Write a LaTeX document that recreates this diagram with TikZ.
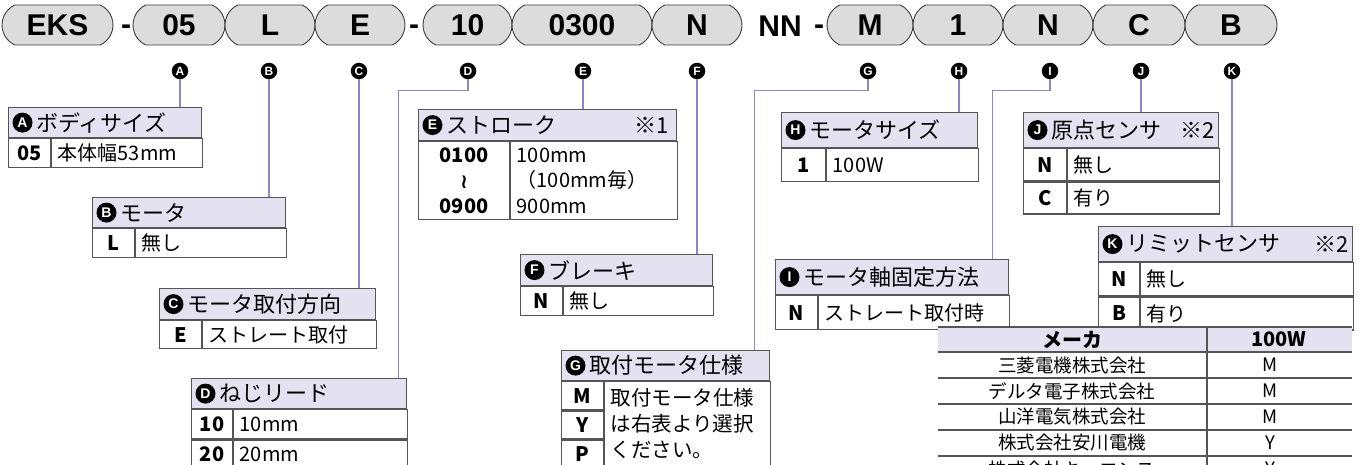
\documentclass[tikz,border=0pt]{standalone}
\usepackage{fontspec}
\setmainfont{Noto Sans CJK JP}
\newfontfamily\pillfont{Liberation Sans}
\newfontfamily\djvfont{DejaVu Sans}
\usetikzlibrary{shapes.misc,positioning}
\definecolor{pillgray}{HTML}{DCDCDC}
\definecolor{pilledge}{HTML}{3C3C3C}
\definecolor{headfill}{HTML}{E4E2F1}
\definecolor{tabline}{HTML}{555555}
\definecolor{linkline}{HTML}{8C85C6}

\begin{document}
\begin{tikzpicture}[x=1pt, y=-1pt,
  pill/.style={rounded rectangle, rounded rectangle arc length=130, draw=pilledge, line width=0.9pt,
    fill=pillgray, minimum height=40pt, minimum width=#1, inner sep=0pt,
    font=\pillfont\bfseries\fontsize{30}{30}\selectfont},
  pill/.default=90pt,
  hyph/.style={anchor=base, inner sep=0pt, font=\pillfont\bfseries\fontsize{30}{30}\selectfont},
  badge/.style={circle, fill=black, text=white, inner sep=0pt, minimum size=16.5pt,
    font=\pillfont\bfseries\fontsize{12}{12}\selectfont},
  hbadge/.style={circle, fill=black, text=white, inner sep=0pt, minimum size=20pt,
    font=\pillfont\bfseries\fontsize{14}{14}\selectfont},
  link/.style={draw=linkline, line width=1.1pt},
  headbox/.style={draw=tabline, fill=headfill, line width=1.2pt, anchor=north west, inner sep=0pt},
  headtxt/.style={anchor=west, inner sep=0pt, font=\fontsize{22}{22}\selectfont},
  cell/.style={draw=tabline, line width=1.2pt, anchor=north west, inner sep=0pt},
  keycell/.style={cell, align=center, font=\bfseries\fontsize{20}{25.5}\selectfont},
  desccell/.style={cell, text width=#1, inner xsep=6pt, align=left, font=\fontsize{20}{25.5}\selectfont},
  mtxt/.style={inner sep=0pt, font=\fontsize{18.5}{18.5}\selectfont},
]
\useasboundingbox (0,0) rectangle (1359,465);
\clip (0,0) rectangle (1359,465);

% 型式
\node[pill=111pt] (pEKS) at (57.5,25) {EKS};
\node[hyph] (h1) at (126,35) {-};
\node[pill=92pt] (p05) at (179,25) {05};
\node[pill] (pL) at (270,25) {L};
\node[pill] (pE) at (360,25) {E};
\node[hyph] (h2) at (414,35) {-};
\node[pill=89pt] (p10) at (467.5,25) {10};
\node[pill=140pt] (p0300) at (582,25) {0300};
\node[pill] (pN) at (697,25) {N};
\node[hyph] (nn) at (780,37) {NN};
\node[hyph] (h3) at (819,35) {-};
\node[pill=86pt] (pM) at (870,25) {M};
\node[pill] (p1) at (958,25) {1};
\node[pill] (pN2) at (1048,25) {N};
\node[pill=92pt] (pC) at (1139,25) {C};
\node[pill=92pt] (pB) at (1231,25) {B};

% 記号
\node[badge] (bA) at (180,71) {A};
\node[badge] (bB) at (269,71) {B};
\node[badge] (bC) at (359,71) {C};
\node[badge] (bD) at (468,71) {D};
\node[badge] (bE) at (583,71) {E};
\node[badge] (bF) at (697,71) {F};
\node[badge] (bG) at (868,71) {G};
\node[badge] (bH) at (959,71) {H};
\node[badge] (bI) at (1050,71) {I};
\node[badge] (bJ) at (1141,71) {J};
\node[badge] (bK) at (1232,71) {K};

% A ボディサイズ
\node[headbox, minimum width=193pt, minimum height=30pt] (Ahead) at (8,107) {};
\node[hbadge] (Ahb) at ([xshift=14.5pt]Ahead.west) {A};
\node[headtxt] (Atitle) at ([xshift=28pt]Ahead.west) {ボディサイズ};
\node[keycell, minimum width=42pt, minimum height=29pt] (Akey) at (Ahead.south west) {05};
\node[desccell=139pt, minimum height=29pt] (Adesc) at (Akey.north east) {本体幅53mm};

% B モータ
\node[headbox, minimum width=193pt, minimum height=30pt] (Bhead) at (92,197) {};
\node[hbadge] (Bhb) at ([xshift=14.5pt]Bhead.west) {B};
\node[headtxt] (Btitle) at ([xshift=28pt]Bhead.west) {モータ};
\node[keycell, minimum width=42pt, minimum height=29pt] (Bkey) at (Bhead.south west) {L};
\node[desccell=139pt, minimum height=29pt] (Bdesc) at (Bkey.north east) {無し};

% C モータ取付方向
\node[headbox, minimum width=216pt, minimum height=31pt] (Chead) at (159,288) {};
\node[hbadge] (Chb) at ([xshift=14.5pt]Chead.west) {C};
\node[headtxt] (Ctitle) at ([xshift=28pt]Chead.west) {モータ取付方向};
\node[keycell, minimum width=42pt, minimum height=28pt] (Ckey) at (Chead.south west) {E};
\node[desccell=162pt, minimum height=28pt] (Cdesc) at (Ckey.north east) {ストレート取付};

% D ねじリード
\node[headbox, minimum width=215pt, minimum height=30pt] (Dhead) at (191,378) {};
\node[hbadge] (Dhb) at ([xshift=14.5pt]Dhead.west) {D};
\node[headtxt] (Dtitle) at ([xshift=28pt]Dhead.west) {ねじリード};
\node[keycell, minimum width=41pt, minimum height=29pt] (Dkey1) at (Dhead.south west) {10};
\node[desccell=162pt, minimum height=29pt] (Ddesc1) at (Dkey1.north east) {10mm};
\node[keycell, minimum width=41pt, minimum height=28pt] (Dkey2) at (Dkey1.south west) {20};
\node[desccell=162pt, minimum height=28pt] (Ddesc2) at (Dkey2.north east) {20mm};

% E ストローク
\node[headbox, minimum width=258pt, minimum height=31pt] (Ehead) at (418,109) {};
\node[hbadge] (Ehb) at ([xshift=14.5pt]Ehead.west) {E};
\node[headtxt] (Etitle) at ([xshift=28pt]Ehead.west) {ストローク};
\node[headtxt, anchor=east] (Enote) at ([xshift=-8pt]Ehead.east) {※1};
\node[keycell, minimum width=91pt, minimum height=78pt] (Ekey) at (Ehead.south west)
  {0100\\{\djvfont ≀}\\0900};
\node[desccell=155pt, minimum height=78pt] (Edesc) at (Ekey.north east)
  {100mm\\（100mm毎）\\900mm};

% F ブレーキ
\node[headbox, minimum width=192pt, minimum height=31pt] (Fhead) at (520,254) {};
\node[hbadge] (Fhb) at ([xshift=14.5pt]Fhead.west) {F};
\node[headtxt] (Ftitle) at ([xshift=28pt]Fhead.west) {ブレーキ};
\node[keycell, minimum width=42pt, minimum height=29pt] (Fkey) at (Fhead.south west) {N};
\node[desccell=138pt, minimum height=29pt] (Fdesc) at (Fkey.north east) {無し};

% G 取付モータ仕様
\node[headbox, minimum width=208pt, minimum height=30pt] (Ghead) at (561,350) {};
\node[hbadge] (Ghb) at ([xshift=14.5pt]Ghead.west) {G};
\node[headtxt] (Gtitle) at ([xshift=28pt]Ghead.west) {取付モータ仕様};
\node[keycell, minimum width=42pt, minimum height=28pt] (Gkey1) at (Ghead.south west) {M};
\node[keycell, minimum width=42pt, minimum height=28pt] (Gkey2) at (Gkey1.south west) {Y};
\node[keycell, minimum width=42pt, minimum height=28pt] (Gkey3) at (Gkey2.south west) {P};
\node[desccell=154pt, minimum height=84pt, font=\fontsize{20.5}{26}\selectfont] (Gdesc) at (Gkey1.north east)
  {取付モータ仕様\\は右表より選択\\ください。};

% H モータサイズ
\node[headbox, minimum width=196pt, minimum height=35pt] (Hhead) at (781,112) {};
\node[hbadge] (Hhb) at ([xshift=14.5pt]Hhead.west) {H};
\node[headtxt] (Htitle) at ([xshift=28pt]Hhead.west) {モータサイズ};
\node[keycell, minimum width=44pt, minimum height=33pt] (Hkey) at (Hhead.south west) {1};
\node[desccell=140pt, minimum height=33pt] (Hdesc) at (Hkey.north east) {100W};

% I モータ軸固定方法
\node[headbox, minimum width=233pt, minimum height=35pt] (Ihead) at (775,259) {};
\node[hbadge] (Ihb) at ([xshift=14.5pt]Ihead.west) {I};
\node[headtxt] (Ititle) at ([xshift=28pt]Ihead.west) {モータ軸固定方法};
\node[keycell, minimum width=42pt, minimum height=34pt] (Ikey) at (Ihead.south west) {N};
\node[desccell=179pt, minimum height=34pt] (Idesc) at (Ikey.north east) {ストレート取付時};

% J 原点センサ
\node[headbox, minimum width=195pt, minimum height=35pt] (Jhead) at (1023,112) {};
\node[hbadge] (Jhb) at ([xshift=14.5pt]Jhead.west) {J};
\node[headtxt] (Jtitle) at ([xshift=28pt]Jhead.west) {原点センサ};
\node[headtxt, anchor=east] (Jnote) at ([xshift=-4pt]Jhead.east) {※2};
\node[keycell, minimum width=43pt, minimum height=32pt] (Jkey1) at (Jhead.south west) {N};
\node[desccell=140pt, minimum height=32pt] (Jdesc1) at (Jkey1.north east) {無し};
\node[keycell, minimum width=43pt, minimum height=32pt] (Jkey2) at (Jkey1.south west) {C};
\node[desccell=140pt, minimum height=32pt] (Jdesc2) at (Jkey2.north east) {有り};

% K リミットセンサ
\node[headbox, minimum width=254pt, minimum height=35pt] (Khead) at (1098,226) {};
\node[hbadge] (Khb) at ([xshift=14.5pt]Khead.west) {K};
\node[headtxt] (Ktitle) at ([xshift=28pt]Khead.west) {リミットセンサ};
\node[headtxt, anchor=east] (Knote) at ([xshift=-4pt]Khead.east) {※2};
\node[keycell, minimum width=41pt, minimum height=33pt] (Kkey1) at (Khead.south west) {N};
\node[desccell=201pt, minimum height=33pt] (Kdesc1) at (Kkey1.north east) {無し};
\node[keycell, minimum width=41pt, minimum height=33pt] (Kkey2) at (Kkey1.south west) {B};
\node[desccell=201pt, minimum height=33pt] (Kdesc2) at (Kkey2.north east) {有り};

% 引出線
\draw[link] (bA.south) -- (bA.south |- Ahead.north);
\draw[link] (bB.south) -- (bB.south |- Bhead.north);
\draw[link] (bC.south) -- (bC.south |- Chead.north);
\draw[link] (bD.south) -- ++(0,11) -| ([xshift=-9pt]Dhead.north east);
\draw[link] (bE.south) -- (bE.south |- Ehead.north);
\draw[link] (bF.south) -- (bF.south |- Fhead.north);
\draw[link] (bG.south) -- ++(0,11) -| ([xshift=-16pt]Ghead.north east);
\draw[link] (bH.south) -- (bH.south |- Hhead.north);
\draw[link] (bI.south) -- ++(0,11) -| ([xshift=-17pt]Ihead.north east);
\draw[link] (bJ.south) -- (bJ.south |- Jhead.north);
\draw[link] (bK.south) -- (bK.south |- Khead.north);

% メーカ対応表
\fill[headfill] (938,327) rectangle (1352,352);
\foreach \y in {327,352,378,404,430,456}
  \draw[tabline, line width=1.1pt] (938,\y) -- (1352,\y);
\draw[tabline, line width=1.1pt] (1207,327) -- (1207,470);
\node[mtxt, font=\bfseries\fontsize{20}{20}\selectfont] (mhead1) at (1072,339.5) {メーカ};
\node[mtxt, font=\bfseries\fontsize{20}{20}\selectfont] (mhead2) at (1279,339.5) {100W};
\node[mtxt] (m1) at (1072,365) {三菱電機株式会社};
\node[mtxt] (v1) at (1270,365) {M};
\node[mtxt] (m2) at (1072,391) {デルタ電子株式会社};
\node[mtxt] (v2) at (1270,391) {M};
\node[mtxt] (m3) at (1072,417) {山洋電気株式会社};
\node[mtxt] (v3) at (1270,417) {M};
\node[mtxt] (m4) at (1072,443) {株式会社安川電機};
\node[mtxt] (v4) at (1270,443) {Y};
\node[mtxt] (m5) at (1072,469) {株式会社キーエンス};
\node[mtxt] (v5) at (1270,469) {Y};
\end{tikzpicture}
\end{document}
